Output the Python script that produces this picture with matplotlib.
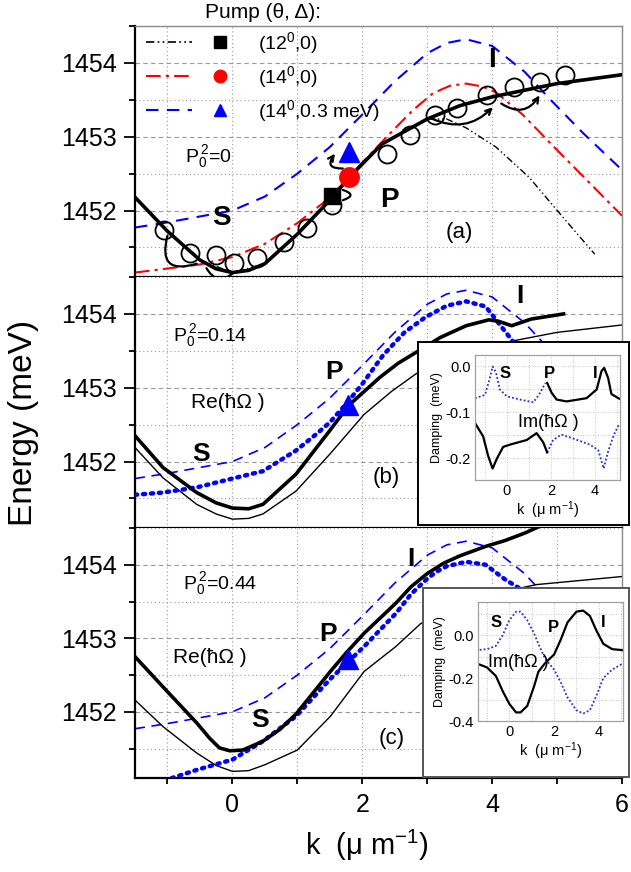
import matplotlib
matplotlib.use('Agg')
import matplotlib.pyplot as plt
import numpy as np
from matplotlib.lines import Line2D
from matplotlib.legend_handler import HandlerTuple
from matplotlib.patches import Rectangle
from matplotlib.ticker import MultipleLocator, FuncFormatter

plt.rcParams['font.family'] = ['Liberation Sans', 'DejaVu Sans']
plt.rcParams['mathtext.default'] = 'regular'

# ---------------- data: panel (a) ----------------
ka_lpb = [-1.5, -1.0, -0.5, -0.25, 0.0, 0.25, 0.5, 1.0, 1.5, 1.8, 2.3, 3.0, 3.5, 4.0, 5.0, 6.0]
Ea_lpb = [1452.18, 1451.72, 1451.33, 1451.21, 1451.16, 1451.19, 1451.28, 1451.68, 1452.14, 1452.45,
          1452.90, 1453.24, 1453.42, 1453.54, 1453.72, 1453.84]
ka_12 = [-1.5, -1.0, -0.5, 0.0, 0.5, 1.0, 1.5, 1.8, 2.3, 3.0, 3.3, 3.6, 4.06, 4.57, 5.09, 5.58]
Ea_12 = [1452.18, 1451.72, 1451.33, 1451.16, 1451.28, 1451.68, 1452.14, 1452.45,
         1452.90, 1453.24, 1453.24, 1453.12, 1452.86, 1452.45, 1451.91, 1451.41]
ka_14 = [-1.5, -0.5, 0.0, 0.5, 1.0, 1.45, 1.8, 2.0, 2.4, 2.78, 3.09, 3.35, 3.6, 3.85, 4.06, 4.47, 5.0, 6.0]
Ea_14 = [1451.16, 1451.27, 1451.37, 1451.55, 1451.83, 1452.14, 1452.45, 1452.65,
         1453.02, 1453.36, 1453.59, 1453.69, 1453.72, 1453.68, 1453.60, 1453.30, 1452.82, 1451.93]
k_det = [-1.5, -1.0, -0.5, 0.0, 0.5, 1.0, 1.5, 2.0, 2.5, 3.0, 3.3, 3.6, 4.0, 4.5, 4.9, 5.4, 6.0]
E_det = [1451.77, 1451.84, 1451.92, 1452.00, 1452.19, 1452.50, 1452.86, 1453.30, 1453.75,
         1454.13, 1454.27, 1454.32, 1454.23, 1453.88, 1453.50, 1453.05, 1452.55]
k_exp = [-1.06, -0.65, -0.25, 0.02, 0.38, 0.79, 1.15, 1.53, 2.38, 2.74, 3.12, 3.46, 3.92, 4.33, 4.74, 5.12]
E_exp = [1451.73, 1451.43, 1451.40, 1451.29, 1451.36, 1451.57, 1451.77, 1452.08,
         1452.77, 1453.02, 1453.30, 1453.39, 1453.57, 1453.67, 1453.74, 1453.83]
pump_k = [1.53, 1.79, 1.79]
pump_E = [1452.20, 1452.45, 1452.79]
pump_labels = ['(12$^0$,0)', '(14$^0$,0)', '(14$^0$,0.3 meV)']

# loops (annotations) in panel (a)
loop_k0 = [-1.00, -0.40, 1.58, 1.70, 3.06, 4.14]
loop_E0 = [1451.66, 1451.22, 1452.77, 1452.28, 1453.25, 1453.45]
loop_k1 = [-0.55, 0.02, 1.70, 1.70, 4.01, 4.73]
loop_E1 = [1451.28, 1451.16, 1452.57, 1452.14, 1453.40, 1453.56]
loop_rad = [0.9, 0.6, 1.0, -1.5, 0.35, 0.5]
loop_style = ['-', '-', '<-', '-', '->', '->']

# ---------------- data: panel (b) ----------------
kb_thick = [-1.5, -1.07, -0.55, -0.25, 0.0, 0.25, 0.47, 0.98, 1.5, 1.79, 2.27, 2.55, 2.83, 3.2, 3.6,
            3.95, 4.1, 4.3, 4.6, 5.1]
Eb_thick = [1452.35, 1451.92, 1451.58, 1451.44, 1451.37, 1451.36, 1451.42, 1451.83, 1452.42,
            1452.76, 1453.14, 1453.33, 1453.48, 1453.68, 1453.84, 1453.92, 1453.90, 1453.84, 1453.93, 1454.00]
kb_thin = [-1.5, -1.07, -0.55, -0.25, 0.0, 0.25, 0.47, 0.98, 1.5, 2.03, 2.45, 2.83, 3.5, 4.0, 5.0, 6.0]
Eb_thin = [1452.19, 1451.78, 1451.42, 1451.29, 1451.22, 1451.23, 1451.29, 1451.60, 1452.10,
           1452.64, 1452.95, 1453.19, 1453.45, 1453.58, 1453.75, 1453.85]
kb_dot = [-1.5, -1.07, -0.55, 0.0, 0.47, 0.98, 1.29, 1.5, 1.75, 2.0, 2.32, 2.65, 2.98, 3.3, 3.6, 3.9,
          4.3, 5.0, 6.0]
Eb_dot = [1451.55, 1451.58, 1451.65, 1451.77, 1451.87, 1452.15, 1452.37, 1452.53, 1452.78,
          1453.05, 1453.44, 1453.75, 1453.96, 1454.11, 1454.17, 1454.10, 1453.65, 1452.90, 1452.20]
pb_k, pb_E = [1.78], [1452.76]

# inset (b)
kib_black = [-1.45, -1.08, -0.85, -0.65, -0.45, -0.17, 0.14, 0.9, 1.35, 1.65, 1.83, np.nan,
             1.83, 2.03, 2.26, 2.71, 3.62, 4.08, 4.3, 4.42, 4.6, 4.75, 5.1]
Eib_black = [-0.123, -0.152, -0.195, -0.222, -0.200, -0.175, -0.170, -0.160, -0.145, -0.165, -0.187, np.nan,
             -0.036, -0.057, -0.072, -0.076, -0.069, -0.050, -0.010, -0.003, -0.025, -0.060, -0.070]
kib_dot = [-1.45, -1.0, -0.8, -0.65, -0.5, -0.32, 0.0, 0.6, 1.2, 1.45, 1.75, np.nan,
           1.83, 2.1, 2.48, 3.2, 3.77, 4.15, 4.4, 4.6, 4.85, 5.1]
Eib_dot = [-0.069, -0.062, -0.030, 0.000, -0.012, -0.050, -0.065, -0.072, -0.078, -0.062, -0.036, np.nan,
           -0.187, -0.160, -0.148, -0.160, -0.170, -0.182, -0.222, -0.185, -0.150, -0.125]

# ---------------- data: panel (c) ----------------
kc_thick = [-1.5, -1.07, -0.55, -0.35, -0.2, -0.04, 0.16, 0.47, 0.73, 0.98, 1.51, 1.75, 2.03, 2.52,
            2.75, 3.0, 3.25, 3.5, 3.9, 4.2, 4.5, 4.8]
Ec_thick = [1452.75, 1452.34, 1451.85, 1451.64, 1451.51, 1451.47, 1451.48, 1451.60, 1451.76, 1451.97,
            1452.55, 1452.80, 1453.07, 1453.48, 1453.70, 1453.88, 1454.02, 1454.12, 1454.25, 1454.33,
            1454.43, 1454.55]
kc_thin = [-1.5, -1.07, -0.55, -0.25, 0.0, 0.25, 0.5, 1.0, 1.51, 2.03, 2.52, 2.9, 3.5, 4.0, 4.68, 6.0]
Ec_thin = [1452.16, 1451.80, 1451.44, 1451.27, 1451.19, 1451.20, 1451.28, 1451.48, 1451.94, 1452.55,
           1452.89, 1453.20, 1453.45, 1453.60, 1453.73, 1453.84]
kc_dot = [-1.5, -1.0, -0.55, 0.0, 0.47, 0.98, 1.5, 2.03, 2.52, 2.75, 3.0, 3.15, 3.3, 3.6, 3.9, 4.2,
          4.42, 5.0, 6.0]
Ec_dot = [1450.88, 1451.08, 1451.21, 1451.35, 1451.60, 1451.94, 1452.44, 1452.89, 1453.34,
          1453.60, 1453.81, 1453.91, 1453.98, 1454.04, 1454.00, 1453.80, 1453.68, 1453.10, 1452.30]
pc_k, pc_E = [1.78], [1452.72]

# inset (c)
kic = [-1.5, -1.0, -0.6, -0.3, 0.0, 0.3, 0.5, 0.8, 1.1, 1.3, 1.6, 2.0, 2.3, 2.6, 3.0, 3.3, 3.6, 3.9, 4.2, 4.6, 5.1]
Eic_black = [-0.13, -0.15, -0.19, -0.26, -0.32, -0.36, -0.36, -0.33, -0.24, -0.17, -0.13, -0.09,
             -0.02, 0.06, 0.11, 0.115, 0.09, 0.02, -0.04, -0.065, -0.07]
Eic_dot = [-0.07, -0.065, -0.05, 0.0, 0.07, 0.11, 0.11, 0.07, 0.01, -0.04, -0.11, -0.16,
           -0.22, -0.29, -0.35, -0.365, -0.35, -0.28, -0.2, -0.16, -0.13]

BLUE = '#0000ff'
RED = '#ff0000'
DOTBLUE = '#2a2ad0'
LS_12 = (0, (5, 2, 1, 2, 1, 2))
LS_14 = (0, (7, 2.5, 1.5, 2.5))
LS_DET = (0, (6, 4))
LS_DOT = (0, (0.5, 1.3))

W, H = 631, 872
fig = plt.figure(figsize=(W / 100, H / 100), dpi=100)


def pxbox(x0, y0, x1, y1):
    return [x0 / W, 1 - y1 / H, (x1 - x0) / W, (y1 - y0) / H]


def setup_main(ax, labels):
    ax.set_xlim(-1.5, 6.0)
    ax.set_ylim(1451.1, 1454.5)
    ax.xaxis.set_major_locator(MultipleLocator(2))
    ax.xaxis.set_minor_locator(MultipleLocator(1))
    ax.yaxis.set_major_locator(MultipleLocator(1))
    ax.yaxis.set_minor_locator(MultipleLocator(0.5))
    ax.yaxis.set_major_formatter(FuncFormatter(lambda v, p: f'{v:.0f}'))
    ax.grid(which='major', axis='y', ls=(0, (4, 3)), color='#999999', lw=0.8)
    ax.grid(which='minor', axis='y', ls=(0, (1, 2.5)), color='#999999', lw=0.8)
    ax.grid(which='both', axis='x', ls=(0, (1, 2.5)), color='#999999', lw=0.8)
    ax.set_axisbelow(True)
    ax.tick_params(axis='y', which='major', direction='out', length=8, width=1.3,
                   labelsize=18, pad=5, right=False)
    ax.tick_params(axis='y', which='minor', direction='out', length=4.5, width=1.3, right=False)
    ax.tick_params(axis='x', which='both', direction='out', length=4.5, width=1.3,
                   top=False, labelbottom=labels, labelsize=18, pad=6)
    for s in ['left', 'bottom']:
        ax.spines[s].set_linewidth(1.6)
        ax.spines[s].set_color('black')
    ax.spines['right'].set_color('#8a8a8a')
    ax.spines['right'].set_linewidth(1.0)
    ax.spines['top'].set_color('#8a8a8a')
    ax.spines['top'].set_linewidth(1.0)


def bold(ax, x, y, s, size=19):
    ax.text(x, y, s, fontsize=size, fontweight='bold', ha='center', va='baseline', zorder=6)


# ---------------- panel (a) ----------------
axa = fig.add_axes(pxbox(135, 26, 622, 277))
setup_main(axa, False)
axa.plot(ka_12, Ea_12, color='black', lw=1.0, ls=LS_12, zorder=2)
axa.plot(ka_14, Ea_14, color=RED, lw=1.5, ls=LS_14, zorder=2)
axa.plot(k_det, E_det, color=BLUE, lw=1.5, ls=LS_DET, zorder=2)
axa.plot(ka_lpb, Ea_lpb, color='black', lw=2.6, zorder=3, solid_joinstyle='round')
axa.plot(k_exp, E_exp, ls='none', marker='o', ms=13, mfc='none', mec='black', mew=1.3, zorder=4)
for k0, e0, k1, e1, r, st in zip(loop_k0, loop_E0, loop_k1, loop_E1, loop_rad, loop_style):
    axa.annotate('', xy=(k1, e1), xytext=(k0, e0),
                 arrowprops=dict(arrowstyle=st, connectionstyle=f'arc3,rad={r}', lw=1.6,
                                 color='black', shrinkA=0, shrinkB=0, mutation_scale=10),
                 zorder=5)
axa.plot(pump_k[0], pump_E[0], ls='none', marker='s', ms=12, color='black', zorder=6)
axa.plot(pump_k[1], pump_E[1], ls='none', marker='o', ms=14, color=RED, zorder=6)
axa.plot(pump_k[2], pump_E[2], ls='none', marker='^', ms=15, color=BLUE, zorder=6)

h1 = (Line2D([], [], color='black', lw=1.2, ls=LS_12),
      Line2D([], [], ls='none', marker='s', ms=8, color='black'))
h2 = (Line2D([], [], color=RED, lw=1.5, ls=LS_14),
      Line2D([], [], ls='none', marker='o', ms=9, color=RED))
h3 = (Line2D([], [], color=BLUE, lw=1.5, ls=LS_DET),
      Line2D([], [], ls='none', marker='^', ms=9, color=BLUE))
leg = axa.legend([h1, h2, h3], pump_labels, handler_map={tuple: HandlerTuple(ndivide=None, pad=0.3)},
                 handlelength=5.0, loc='upper left', bbox_to_anchor=(146 / W, 1 - 3 / H),
                 bbox_transform=fig.transFigure, frameon=False, fontsize=14, labelspacing=0.42,
                 borderaxespad=0, borderpad=0, handletextpad=0.75,
                 title='Pump (θ, Δ):', title_fontsize=15)
leg.set_zorder(7)

axa.text(-0.73, 1452.66, 'P$_0^{\\,2}$=0', fontsize=14, ha='left', va='baseline')
bold(axa, -0.17, 1451.81, 'S', 20)
bold(axa, 2.42, 1452.05, 'P', 20)
bold(axa, 4.0, 1453.95, 'I', 20)
axa.text(3.5, 1451.63, '(a)', fontsize=16, ha='center', va='baseline')

# ---------------- panel (b) ----------------
axb = fig.add_axes(pxbox(135, 277, 622, 528))
setup_main(axb, False)
axb.spines['top'].set_visible(False)
axb.plot(k_det, E_det, color=BLUE, lw=1.2, ls=LS_DET, zorder=2)
axb.plot(kb_thin, Eb_thin, color='black', lw=1.0, zorder=2)
axb.plot(kb_dot, Eb_dot, color=BLUE, lw=3.2, ls=LS_DOT, dash_capstyle='round', zorder=3)
axb.plot(kb_thick, Eb_thick, color='black', lw=2.6, zorder=3, solid_joinstyle='round')
axb.plot(pb_k, pb_E, ls='none', marker='^', ms=15, color=BLUE, zorder=5)
axb.text(-0.91, 1453.63, 'P$_0^{\\,2}$=0.14', fontsize=14, ha='left', va='baseline')
axb.text(-0.63, 1452.72, 'Re(ħΩ )', fontsize=15, ha='left', va='baseline')
bold(axb, -0.48, 1452.01, 'S')
bold(axb, 1.57, 1453.12, 'P')
bold(axb, 4.42, 1454.15, 'I')
axb.text(2.37, 1451.71, '(b)', fontsize=16, ha='center', va='baseline')

# ---------------- panel (c) ----------------
axc = fig.add_axes(pxbox(135, 528, 622, 778))
setup_main(axc, True)
axc.spines['top'].set_visible(False)
axc.plot(k_det, E_det, color=BLUE, lw=1.2, ls=LS_DET, zorder=2)
axc.plot(kc_thin, Ec_thin, color='black', lw=1.0, zorder=2)
axc.plot(kc_dot, Ec_dot, color=BLUE, lw=3.2, ls=LS_DOT, dash_capstyle='round', zorder=3)
axc.plot(kc_thick, Ec_thick, color='black', lw=2.6, zorder=3, solid_joinstyle='round')
axc.plot(pc_k, pc_E, ls='none', marker='^', ms=15, color=BLUE, zorder=5)
axc.text(-0.76, 1453.67, 'P$_0^{\\,2}$=0.44', fontsize=14, ha='left', va='baseline')
axc.text(-0.91, 1452.66, 'Re(ħΩ )', fontsize=15, ha='left', va='baseline')
bold(axc, 0.42, 1451.80, 'S')
bold(axc, 1.47, 1452.96, 'P')
bold(axc, 2.75, 1453.98, 'I')
axc.text(2.45, 1451.56, '(c)', fontsize=16, ha='center', va='baseline')
axc.set_xlabel('k  (μ m$^{-1}$)', fontsize=21, labelpad=6)
axc.xaxis.set_label_coords((367 - 135) / 487, -0.2)

fig.text(24 / W, 1 - 423 / H, 'Energy (meV)', rotation=90, fontsize=24, ha='center', va='center')


# ---------------- insets ----------------
def setup_inset(ax, xlim, ylim, ymaj, ymin):
    ax.set_xlim(*xlim)
    ax.set_ylim(*ylim)
    ax.xaxis.set_major_locator(MultipleLocator(2))
    ax.xaxis.set_minor_locator(MultipleLocator(1))
    ax.yaxis.set_major_locator(MultipleLocator(ymaj))
    ax.yaxis.set_minor_locator(MultipleLocator(ymin))
    ax.yaxis.set_major_formatter(FuncFormatter(lambda v, p: f'{v + 0:.1f}'))
    ax.xaxis.set_major_formatter(FuncFormatter(lambda v, p: f'{v + 0:.0f}'))
    ax.grid(which='both', ls=(0, (1, 2)), color='#b5b5b5', lw=0.6)
    ax.set_axisbelow(True)
    ax.tick_params(which='both', length=0, labelsize=10.5, pad=3)
    for s in ax.spines.values():
        s.set_color('#a0a0a0')
        s.set_linewidth(0.9)
    ax.set_ylabel('Damping  (meV)', fontsize=9, labelpad=2)
    ax.set_xlabel('k  (μ m$^{-1}$)', fontsize=10.5, labelpad=1)


fig.add_artist(Rectangle((418 / W, 1 - 525 / H), 211 / W, 183 / H, transform=fig.transFigure,
                         fc='white', ec='black', lw=1.4, zorder=5))
axib = fig.add_axes(pxbox(475, 355, 620, 480))
axib.set_zorder(10)
setup_inset(axib, (-1.45, 5.14), (-0.247, 0.025), 0.1, 0.05)
axib.plot(kib_dot, Eib_dot, color=DOTBLUE, lw=1.3, ls=(0, (1, 1.2)))
axib.plot(kib_black, Eib_black, color='black', lw=1.6)
for x, s in zip([-0.09, 1.95, 4.0], ['S', 'P', 'I']):
    axib.text(x, -0.025, s, fontsize=12, fontweight='bold', ha='center', va='baseline')
axib.text(1.88, -0.132, 'Im(ħΩ )', fontsize=13, ha='center', va='baseline')

fig.add_artist(Rectangle((423 / W, 1 - 777 / H), 206 / W, 189 / H, transform=fig.transFigure,
                         fc='white', ec='#555555', lw=1.4, zorder=5))
axic = fig.add_axes(pxbox(478, 602, 623, 721))
axic.set_zorder(10)
setup_inset(axic, (-1.4, 5.08), (-0.40, 0.155), 0.2, 0.1)
axic.plot(kic, Eic_dot, color=DOTBLUE, lw=1.3, ls=(0, (1, 1.2)))
axic.plot(kic, Eic_black, color='black', lw=1.6)
for x, e, s in zip([-0.6, 1.95, 4.19], [0.038, 0.015, 0.038], ['S', 'P', 'I']):
    axic.text(x, e, s, fontsize=12, fontweight='bold', ha='center', va='baseline')
axic.text(-0.94, -0.146, 'Im(ħΩ )', fontsize=13, ha='left', va='baseline')

fig.savefig('out.png', dpi=100)
